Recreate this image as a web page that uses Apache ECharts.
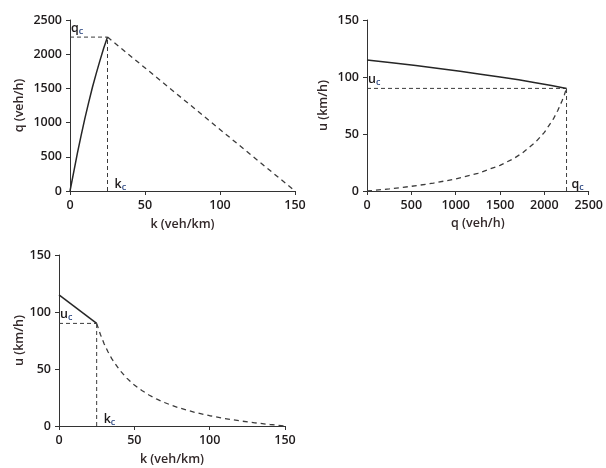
<!DOCTYPE html>
<html>
<head>
<meta charset="utf-8">
<script src="https://cdn.jsdelivr.net/npm/echarts@6/dist/echarts.min.js"></script>
<style>
  html, body { margin: 0; padding: 0; background: #fff; }
  #chart { width: 606px; height: 468px; }
</style>
</head>
<body>
<div id="chart"></div>
<script>
// Fundamental diagram: flow–density, speed–flow, speed–density
const kTicks = [0, 50, 100, 150];
const qTicks = [0, 500, 1000, 1500, 2000, 2500];
const uTicks = [0, 50, 100, 150];

// Critical point
const kCrit = 25;
const qCrit = 2250;
const uCrit = 90;

// q–k diagram
const qkFreeK = [0, 2.5, 5, 7.5, 10, 12.5, 15, 17.5, 20, 22.5, 25];
const qkFreeQ = [0, 280, 560, 820, 1070, 1300, 1520, 1720, 1910, 2090, 2250];
const qkCongK = [25, 150];
const qkCongQ = [2250, 0];

// u–q diagram
const uqFreeQ = [0, 280, 550, 810, 1050, 1280, 1500, 1710, 1900, 2080, 2250];
const uqFreeU = [115, 112.5, 110, 107.5, 105, 102.5, 100, 97.5, 95, 92.5, 90];
const uqCongQ = [0, 250, 500, 750, 1000, 1250, 1500, 1650, 1750, 1900, 2000, 2100, 2150, 2200, 2225, 2250];
const uqCongU = [0, 1.8, 4.1, 6.9, 10.6, 15.5, 22.5, 28.3, 33.2, 42.8, 51.4, 63, 70.4, 79.2, 84.3, 90];

// u–k diagram
const ukFreeK = [0, 25];
const ukFreeU = [115, 90];
const ukCongK = [25, 27.5, 30, 32.5, 35, 40, 45, 50, 55, 60, 65, 70, 75, 80, 90, 100, 110, 120, 130, 140, 150];
const ukCongU = [90, 80.2, 72, 65.1, 59.1, 49.5, 42, 36, 31.1, 27, 23.5, 20.6, 18, 15.8, 12, 9, 6.5, 4.5, 2.8, 1.3, 0];

const zip = (a, b) => a.map((v, i) => [v, b[i]]);

const FONT = '"Open Sans", "Noto Sans", sans-serif';
const TEXT = '#1e1a1b';
const NAME = '#33292a';
const LINE = '#262626';
const DASH = '#3c3c3c';
const WEIGHT = 600;

function valueAxis(gridIndex, ticks, name, gap) {
  return {
    type: 'value',
    gridIndex,
    min: ticks[0],
    max: ticks[ticks.length - 1],
    interval: ticks[1] - ticks[0],
    name,
    nameLocation: 'middle',
    nameGap: gap,
    nameTextStyle: { color: NAME, fontFamily: FONT, fontSize: 12.5, fontWeight: WEIGHT },
    axisLine: { show: true, onZero: false, lineStyle: { color: '#333', width: 1 } },
    axisTick: { show: true, length: 4, lineStyle: { color: '#333' } },
    axisLabel: { color: TEXT, fontFamily: FONT, fontSize: 12.5, fontWeight: WEIGHT, margin: 8,
      formatter: v => String(v) },
    splitLine: { show: false }
  };
}

const subRich = {
  m: { color: TEXT, fontFamily: FONT, fontSize: 12.5, fontWeight: WEIGHT },
  s: { color: '#2f4a84', fontFamily: FONT, fontSize: 9, fontWeight: WEIGHT, verticalAlign: 'bottom', padding: [7, 0, 0, 0] }
};

function solid(xi, data) {
  return { type: 'line', xAxisIndex: xi, yAxisIndex: xi, data, symbol: 'none',
    lineStyle: { color: LINE, width: 1.5 }, silent: true };
}
function dashed(xi, data) {
  return { type: 'line', xAxisIndex: xi, yAxisIndex: xi, data, symbol: 'none',
    lineStyle: { color: DASH, width: 1.3, type: [5, 4] }, silent: true };
}
// Dashed guide from an axis to the critical point; the axis end carries the subscripted tag
function guide(xi, from, to, letter, offset) {
  return { type: 'line', xAxisIndex: xi, yAxisIndex: xi, silent: true,
    symbol: 'circle', symbolSize: 0, showSymbol: true, showAllSymbol: true,
    itemStyle: { color: DASH, opacity: 1 },
    lineStyle: { color: DASH, width: 1, type: [4, 3] },
    data: [
      { value: from, label: { show: true, position: 'right', offset, color: TEXT, opacity: 1,
        formatter: '{m|' + letter + '}{s|c}', rich: subRich } },
      to
    ] };
}

const option = {
  animation: false,
  backgroundColor: '#fff',
  grid: [
    { left: 70, top: 20, width: 225, height: 171 },
    { left: 367, top: 20, width: 226, height: 171 },
    { left: 59, top: 255, width: 226, height: 171 }
  ],
  xAxis: [
    valueAxis(0, kTicks, 'k (veh/km)', 27),
    valueAxis(1, qTicks, 'q (veh/h)', 26),
    valueAxis(2, kTicks, 'k (veh/km)', 27)
  ],
  yAxis: [
    valueAxis(0, qTicks, 'q (veh/h)', 44),
    valueAxis(1, uTicks, 'u (km/h)', 37),
    valueAxis(2, uTicks, 'u (km/h)', 33)
  ],
  series: [
    // q–k
    guide(0, [0, qCrit], [kCrit, qCrit], 'q', [-4, -9]),
    guide(0, [kCrit, 0], [kCrit, qCrit], 'k', [2, -7]),
    solid(0, zip(qkFreeK, qkFreeQ)),
    dashed(0, zip(qkCongK, qkCongQ)),
    // u–q
    guide(1, [0, uCrit], [qCrit, uCrit], 'u', [-4, -9]),
    guide(1, [qCrit, 0], [qCrit, uCrit], 'q', [0, -7]),
    solid(1, zip(uqFreeQ, uqFreeU)),
    dashed(1, zip(uqCongQ, uqCongU)),
    // u–k
    guide(2, [0, uCrit], [kCrit, uCrit], 'u', [-4, -9]),
    guide(2, [kCrit, 0], [kCrit, uCrit], 'k', [2, -7]),
    solid(2, zip(ukFreeK, ukFreeU)),
    dashed(2, zip(ukCongK, ukCongU))
  ]
};

const chart = echarts.init(document.getElementById('chart'), null, { renderer: 'canvas' });
chart.setOption(option);
</script>
</body>
</html>
